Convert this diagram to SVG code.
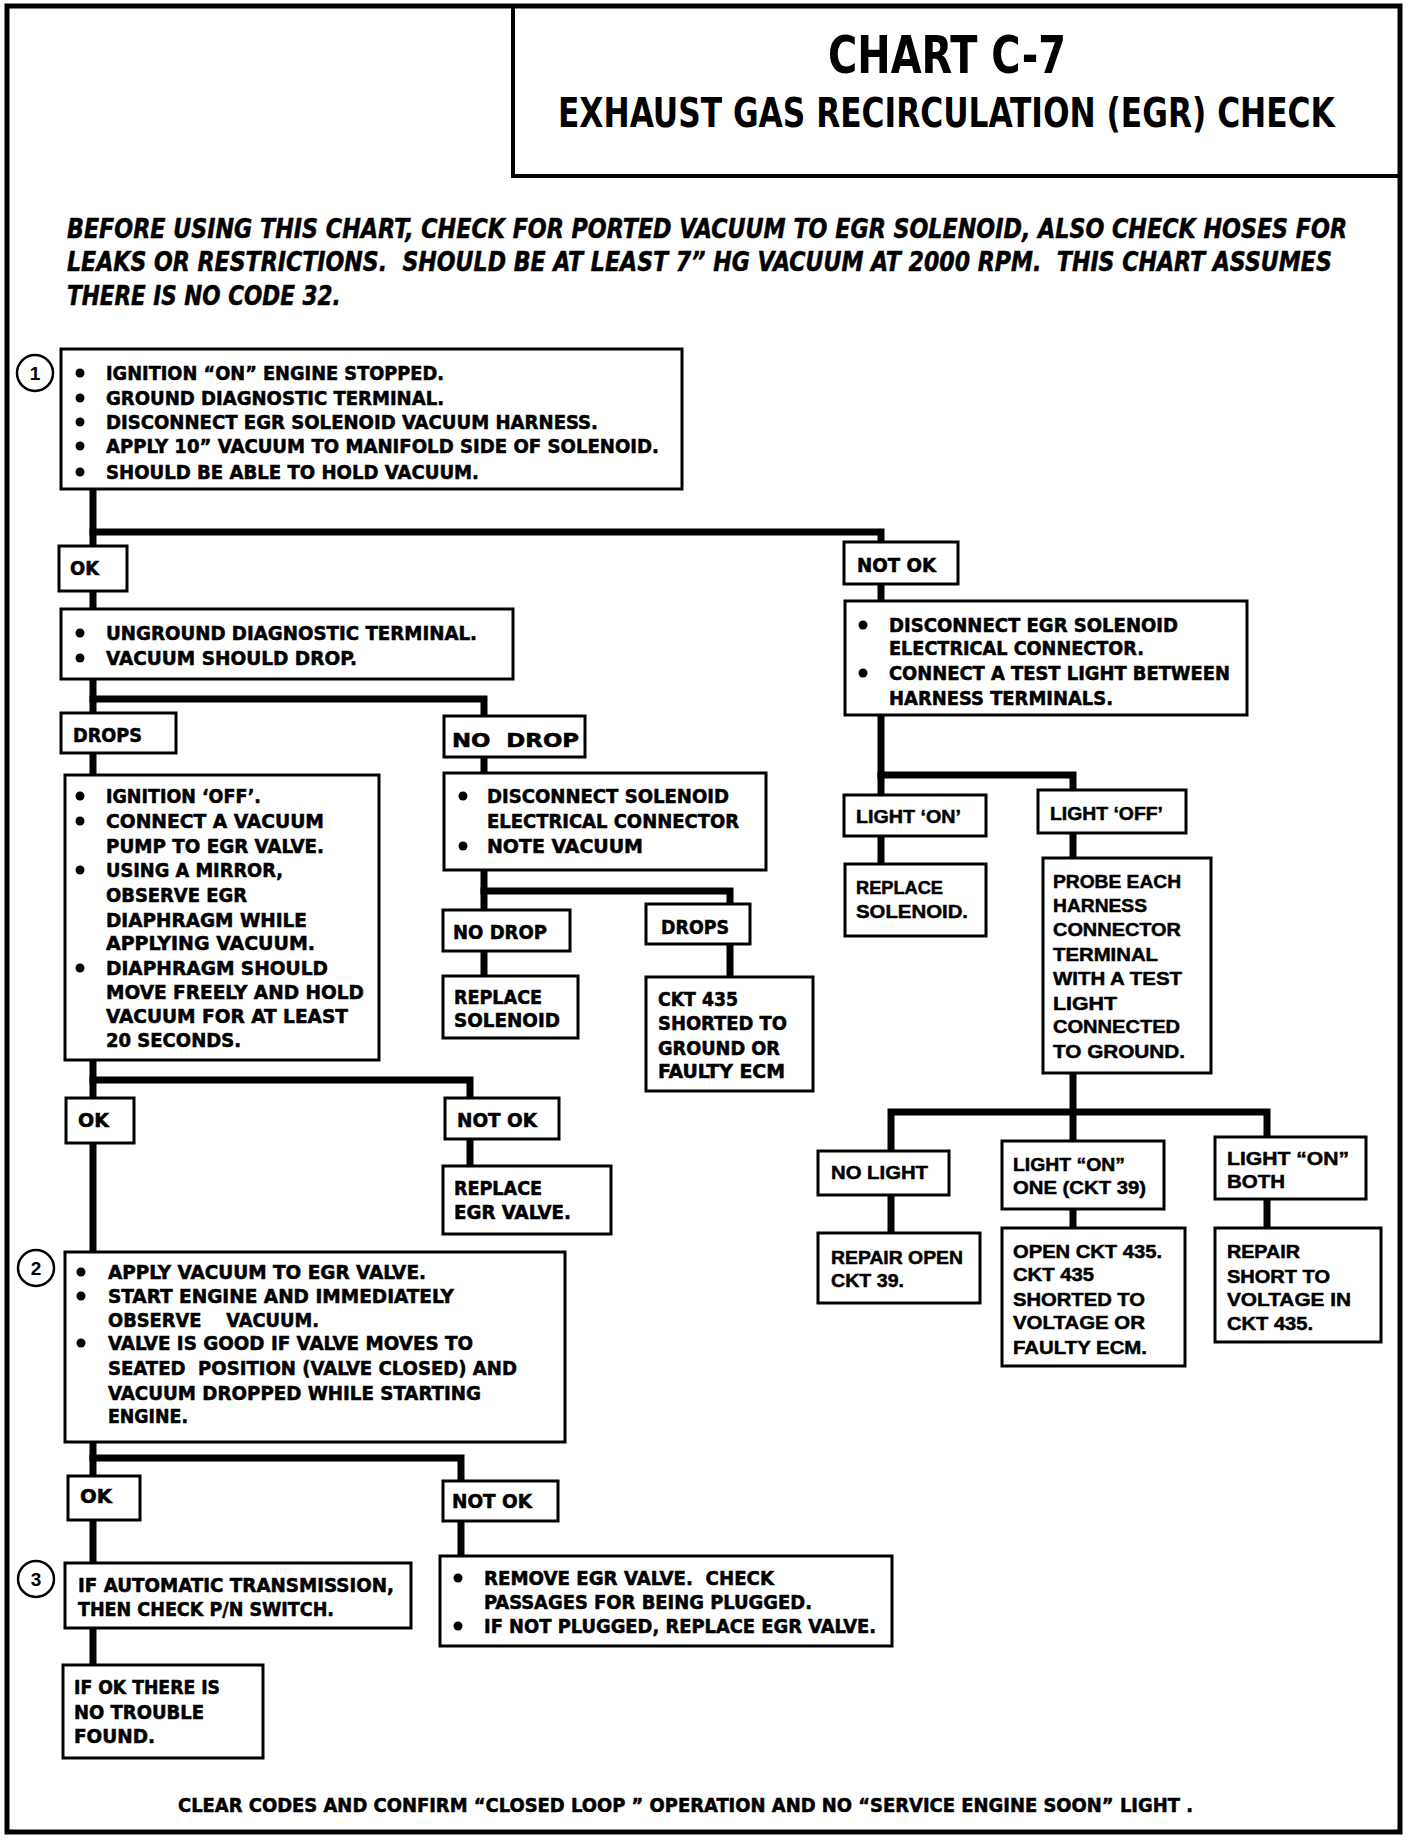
<svg xmlns="http://www.w3.org/2000/svg" width="1408" height="1842" viewBox="0 0 1408 1842">
<style>
.bg{fill:#fff}
.frame{fill:none;stroke:#000;stroke-width:5}
.box{fill:#fff;stroke:#000;stroke-width:3}
.conn{fill:none;stroke:#000;stroke-width:7;stroke-linecap:square;stroke-linejoin:miter}
.t{font-family:"Liberation Sans Narrow","DejaVu Sans Condensed","Liberation Sans",sans-serif;font-weight:bold;font-size:19px;fill:#000;stroke:#000;stroke-width:0.5}
.w{font-family:"Liberation Sans","DejaVu Sans",sans-serif;font-weight:bold;font-size:19px;fill:#000;stroke:#000;stroke-width:0.5}
.intro{font-family:"Liberation Sans Narrow","DejaVu Sans Condensed","Liberation Sans",sans-serif;font-weight:bold;font-style:italic;font-size:27px;fill:#000;stroke:#000;stroke-width:0.5}
.title{font-family:"Liberation Sans Narrow","DejaVu Sans Condensed","Liberation Sans",sans-serif;font-weight:bold;fill:#000}
.num{font-family:"Liberation Sans","DejaVu Sans",sans-serif;font-weight:bold;font-size:19px;fill:#000;text-anchor:middle}
.pre{white-space:pre}
.circ{fill:#fff;stroke:#000;stroke-width:2.5}
.dot{fill:#000}
</style>
<rect class="bg" x="0" y="0" width="1408" height="1842"/>
<rect class="frame" x="7" y="6" width="1393" height="1826"/>

<g id="title">
<rect class="frame" x="513" y="6" width="887" height="170" style="stroke-width:4"/>
<text class="title" x="828" y="73" font-size="52" textLength="238" lengthAdjust="spacingAndGlyphs">CHART C-7</text>
<text class="title" transform="translate(558,127) scale(0.8,1)" x="0" y="0" font-size="40" textLength="971" lengthAdjust="spacingAndGlyphs">EXHAUST GAS RECIRCULATION (EGR) CHECK</text>
</g>

<g id="intro">
<text class="intro pre" xml:space="preserve" transform="translate(67,238) scale(0.8,1)" x="0" y="0" textLength="1600" lengthAdjust="spacingAndGlyphs">BEFORE USING THIS CHART, CHECK FOR PORTED VACUUM TO EGR SOLENOID, ALSO CHECK HOSES FOR</text>
<text class="intro pre" xml:space="preserve" transform="translate(67,271) scale(0.8,1)" x="0" y="0" textLength="1581" lengthAdjust="spacingAndGlyphs">LEAKS OR RESTRICTIONS.  SHOULD BE AT LEAST 7” HG VACUUM AT 2000 RPM.  THIS CHART ASSUMES</text>
<text class="intro" transform="translate(67,305) scale(0.8,1)" x="0" y="0" textLength="342" lengthAdjust="spacingAndGlyphs">THERE IS NO CODE 32.</text>
</g>

<g id="connectors">
<polyline class="conn" points="93,489 93,546"/>
<polyline class="conn" points="93,532 881,532 881,542"/>
<polyline class="conn" points="93,591 93,609"/>
<polyline class="conn" points="93,679 93,713"/>
<polyline class="conn" points="93,699 484,699 484,716"/>
<polyline class="conn" points="93,753 93,775"/>
<polyline class="conn" points="484,757 484,773"/>
<polyline class="conn" points="484,870 484,910"/>
<polyline class="conn" points="484,891 730,891 730,904"/>
<polyline class="conn" points="484,951 484,976"/>
<polyline class="conn" points="730,944 730,977"/>
<polyline class="conn" points="93,1060 93,1098"/>
<polyline class="conn" points="93,1080 470,1080 470,1098"/>
<polyline class="conn" points="470,1139 470,1166"/>
<polyline class="conn" points="93,1143 93,1252"/>
<polyline class="conn" points="93,1442 93,1476"/>
<polyline class="conn" points="93,1458 461,1458 461,1481"/>
<polyline class="conn" points="461,1521 461,1556"/>
<polyline class="conn" points="93,1520 93,1563"/>
<polyline class="conn" points="93,1628 93,1665"/>
<polyline class="conn" points="881,584 881,601"/>
<polyline class="conn" points="881,715 881,795"/>
<polyline class="conn" points="881,775 1073,775 1073,790"/>
<polyline class="conn" points="881,836 881,864"/>
<polyline class="conn" points="1073,833 1073,858"/>
<polyline class="conn" points="1073,1073 1073,1141"/>
<polyline class="conn" points="891,1151 891,1112 1267,1112 1267,1137"/>
<polyline class="conn" points="891,1195 891,1233"/>
<polyline class="conn" points="1073,1209 1073,1228"/>
<polyline class="conn" points="1267,1199 1267,1228"/>
</g>

<g id="step1">
<circle class="circ" cx="35" cy="373" r="18"/>
<text class="num" x="35" y="380">1</text>
<rect class="box" x="61" y="349" width="621" height="140"/>
<circle class="dot" cx="80" cy="373" r="4.5"/>
<circle class="dot" cx="80" cy="398" r="4.5"/>
<circle class="dot" cx="80" cy="422" r="4.5"/>
<circle class="dot" cx="80" cy="446" r="4.5"/>
<circle class="dot" cx="80" cy="472" r="4.5"/>
<text class="t" x="106" y="380" textLength="338" lengthAdjust="spacingAndGlyphs">IGNITION “ON” ENGINE STOPPED.</text>
<text class="t" x="106" y="405" textLength="338" lengthAdjust="spacingAndGlyphs">GROUND DIAGNOSTIC TERMINAL.</text>
<text class="t" x="106" y="429" textLength="492" lengthAdjust="spacingAndGlyphs">DISCONNECT EGR SOLENOID VACUUM HARNESS.</text>
<text class="t" x="106" y="453" textLength="553" lengthAdjust="spacingAndGlyphs">APPLY 10” VACUUM TO MANIFOLD SIDE OF SOLENOID.</text>
<text class="t" x="106" y="479" textLength="373" lengthAdjust="spacingAndGlyphs">SHOULD BE ABLE TO HOLD VACUUM.</text>
</g>

<g id="ok1">
<rect class="box" x="59" y="546" width="68" height="45"/>
<text class="t" x="70" y="575" textLength="29" lengthAdjust="spacingAndGlyphs">OK</text>
</g>

<g id="notok1">
<rect class="box" x="844" y="542" width="114" height="42"/>
<text class="t" x="857" y="572" textLength="79" lengthAdjust="spacingAndGlyphs">NOT OK</text>
</g>

<g id="unground">
<rect class="box" x="61" y="609" width="452" height="70"/>
<circle class="dot" cx="80" cy="633" r="4.5"/>
<circle class="dot" cx="80" cy="658" r="4.5"/>
<text class="t" x="106" y="640" textLength="371" lengthAdjust="spacingAndGlyphs">UNGROUND DIAGNOSTIC TERMINAL.</text>
<text class="t" x="106" y="665" textLength="251" lengthAdjust="spacingAndGlyphs">VACUUM SHOULD DROP.</text>
</g>

<g id="drops1">
<rect class="box" x="61" y="713" width="115" height="40"/>
<text class="t" x="73" y="742" textLength="69" lengthAdjust="spacingAndGlyphs">DROPS</text>
</g>

<g id="nodrop1">
<rect class="box" x="444" y="716" width="141" height="41"/>
<text class="t pre" xml:space="preserve" x="452" y="747" textLength="127" lengthAdjust="spacingAndGlyphs">NO  DROP</text>
</g>

<g id="ignoff">
<rect class="box" x="65" y="775" width="314" height="285"/>
<circle class="dot" cx="80" cy="796" r="4.5"/>
<circle class="dot" cx="80" cy="821" r="4.5"/>
<circle class="dot" cx="80" cy="870" r="4.5"/>
<circle class="dot" cx="80" cy="968" r="4.5"/>
<text class="t" x="106" y="803" textLength="155" lengthAdjust="spacingAndGlyphs">IGNITION ‘OFF’.</text>
<text class="t" x="106" y="828" textLength="218" lengthAdjust="spacingAndGlyphs">CONNECT A VACUUM</text>
<text class="t" x="106" y="853" textLength="218" lengthAdjust="spacingAndGlyphs">PUMP TO EGR VALVE.</text>
<text class="t" x="106" y="877" textLength="177" lengthAdjust="spacingAndGlyphs">USING A MIRROR,</text>
<text class="t" x="106" y="902" textLength="141" lengthAdjust="spacingAndGlyphs">OBSERVE EGR</text>
<text class="t" x="106" y="927" textLength="201" lengthAdjust="spacingAndGlyphs">DIAPHRAGM WHILE</text>
<text class="t" x="106" y="950" textLength="209" lengthAdjust="spacingAndGlyphs">APPLYING VACUUM.</text>
<text class="t" x="106" y="975" textLength="222" lengthAdjust="spacingAndGlyphs">DIAPHRAGM SHOULD</text>
<text class="t" x="106" y="999" textLength="258" lengthAdjust="spacingAndGlyphs">MOVE FREELY AND HOLD</text>
<text class="t" x="106" y="1023" textLength="242" lengthAdjust="spacingAndGlyphs">VACUUM FOR AT LEAST</text>
<text class="t" x="106" y="1047" textLength="135" lengthAdjust="spacingAndGlyphs">20 SECONDS.</text>
</g>

<g id="discsol">
<rect class="box" x="444" y="773" width="322" height="97"/>
<circle class="dot" cx="463" cy="796" r="4.5"/>
<circle class="dot" cx="463" cy="846" r="4.5"/>
<text class="t" x="487" y="803" textLength="242" lengthAdjust="spacingAndGlyphs">DISCONNECT SOLENOID</text>
<text class="t" x="487" y="828" textLength="252" lengthAdjust="spacingAndGlyphs">ELECTRICAL CONNECTOR</text>
<text class="t" x="487" y="853" textLength="156" lengthAdjust="spacingAndGlyphs">NOTE VACUUM</text>
</g>

<g id="nodrop2">
<rect class="box" x="443" y="910" width="127" height="41"/>
<text class="t" x="453" y="939" textLength="94" lengthAdjust="spacingAndGlyphs">NO DROP</text>
</g>

<g id="drops2">
<rect class="box" x="646" y="904" width="104" height="40"/>
<text class="t" x="661" y="934" textLength="68" lengthAdjust="spacingAndGlyphs">DROPS</text>
</g>

<g id="replsol1">
<rect class="box" x="443" y="976" width="135" height="62"/>
<text class="t" x="454" y="1004" textLength="88" lengthAdjust="spacingAndGlyphs">REPLACE</text>
<text class="t" x="454" y="1027" textLength="106" lengthAdjust="spacingAndGlyphs">SOLENOID</text>
</g>

<g id="ckt435">
<rect class="box" x="646" y="977" width="167" height="114"/>
<text class="t" x="658" y="1006" textLength="80" lengthAdjust="spacingAndGlyphs">CKT 435</text>
<text class="t" x="658" y="1030" textLength="129" lengthAdjust="spacingAndGlyphs">SHORTED TO</text>
<text class="t" x="658" y="1055" textLength="122" lengthAdjust="spacingAndGlyphs">GROUND OR</text>
<text class="t" x="658" y="1078" textLength="127" lengthAdjust="spacingAndGlyphs">FAULTY ECM</text>
</g>

<g id="ok2">
<rect class="box" x="66" y="1098" width="68" height="45"/>
<text class="t" x="78" y="1127" textLength="31" lengthAdjust="spacingAndGlyphs">OK</text>
</g>

<g id="notok2">
<rect class="box" x="445" y="1098" width="114" height="41"/>
<text class="t" x="457" y="1127" textLength="80" lengthAdjust="spacingAndGlyphs">NOT OK</text>
</g>

<g id="replegr">
<rect class="box" x="443" y="1166" width="168" height="68"/>
<text class="t" x="454" y="1195" textLength="88" lengthAdjust="spacingAndGlyphs">REPLACE</text>
<text class="t" x="454" y="1219" textLength="117" lengthAdjust="spacingAndGlyphs">EGR VALVE.</text>
</g>

<g id="step2">
<circle class="circ" cx="36" cy="1268" r="18"/>
<text class="num" x="36" y="1275">2</text>
<rect class="box" x="65" y="1252" width="500" height="190"/>
<circle class="dot" cx="81" cy="1272" r="4.5"/>
<circle class="dot" cx="81" cy="1296" r="4.5"/>
<circle class="dot" cx="81" cy="1343" r="4.5"/>
<text class="t" x="108" y="1279" textLength="318" lengthAdjust="spacingAndGlyphs">APPLY VACUUM TO EGR VALVE.</text>
<text class="t" x="108" y="1303" textLength="346" lengthAdjust="spacingAndGlyphs">START ENGINE AND IMMEDIATELY</text>
<text class="t pre" xml:space="preserve" x="108" y="1327" textLength="211" lengthAdjust="spacingAndGlyphs">OBSERVE    VACUUM.</text>
<text class="t" x="108" y="1350" textLength="365" lengthAdjust="spacingAndGlyphs">VALVE IS GOOD IF VALVE MOVES TO</text>
<text class="t pre" xml:space="preserve" x="108" y="1375" textLength="409" lengthAdjust="spacingAndGlyphs">SEATED  POSITION (VALVE CLOSED) AND</text>
<text class="t" x="108" y="1400" textLength="373" lengthAdjust="spacingAndGlyphs">VACUUM DROPPED WHILE STARTING</text>
<text class="t" x="108" y="1423" textLength="80" lengthAdjust="spacingAndGlyphs">ENGINE.</text>
</g>

<g id="ok3">
<rect class="box" x="68" y="1476" width="72" height="44"/>
<text class="t" x="80" y="1503" textLength="32" lengthAdjust="spacingAndGlyphs">OK</text>
</g>

<g id="notok3">
<rect class="box" x="443" y="1481" width="115" height="40"/>
<text class="t" x="452" y="1508" textLength="80" lengthAdjust="spacingAndGlyphs">NOT OK</text>
</g>

<g id="removeegr">
<rect class="box" x="440" y="1556" width="452" height="90"/>
<circle class="dot" cx="458" cy="1578" r="4.5"/>
<circle class="dot" cx="458" cy="1626" r="4.5"/>
<text class="t pre" xml:space="preserve" x="484" y="1585" textLength="290" lengthAdjust="spacingAndGlyphs">REMOVE EGR VALVE.  CHECK</text>
<text class="t" x="484" y="1609" textLength="328" lengthAdjust="spacingAndGlyphs">PASSAGES FOR BEING PLUGGED.</text>
<text class="t" x="484" y="1633" textLength="392" lengthAdjust="spacingAndGlyphs">IF NOT PLUGGED, REPLACE EGR VALVE.</text>
</g>

<g id="step3">
<circle class="circ" cx="36" cy="1579" r="18"/>
<text class="num" x="36" y="1586">3</text>
<rect class="box" x="65" y="1563" width="346" height="65"/>
<text class="t" x="78" y="1592" textLength="316" lengthAdjust="spacingAndGlyphs">IF AUTOMATIC TRANSMISSION,</text>
<text class="t" x="78" y="1616" textLength="256" lengthAdjust="spacingAndGlyphs">THEN CHECK P/N SWITCH.</text>
</g>

<g id="notrouble">
<rect class="box" x="63" y="1665" width="200" height="93"/>
<text class="t" x="74" y="1694" textLength="146" lengthAdjust="spacingAndGlyphs">IF OK THERE IS</text>
<text class="t" x="74" y="1719" textLength="130" lengthAdjust="spacingAndGlyphs">NO TROUBLE</text>
<text class="t" x="74" y="1743" textLength="81" lengthAdjust="spacingAndGlyphs">FOUND.</text>
</g>

<g id="footer">
<text class="t" x="178" y="1812" textLength="1015" lengthAdjust="spacingAndGlyphs">CLEAR CODES AND CONFIRM “CLOSED LOOP ” OPERATION AND NO “SERVICE ENGINE SOON” LIGHT .</text>
</g>

<g id="disconnect-egr">
<rect class="box" x="845" y="601" width="402" height="114"/>
<circle class="dot" cx="863" cy="625" r="4.5"/>
<circle class="dot" cx="863" cy="673" r="4.5"/>
<text class="t" x="889" y="632" textLength="289" lengthAdjust="spacingAndGlyphs">DISCONNECT EGR SOLENOID</text>
<text class="t" x="889" y="655" textLength="255" lengthAdjust="spacingAndGlyphs">ELECTRICAL CONNECTOR.</text>
<text class="t" x="889" y="680" textLength="341" lengthAdjust="spacingAndGlyphs">CONNECT A TEST LIGHT BETWEEN</text>
<text class="t" x="889" y="705" textLength="224" lengthAdjust="spacingAndGlyphs">HARNESS TERMINALS.</text>
</g>

<g id="lighton">
<rect class="box" x="844" y="795" width="142" height="41"/>
<text class="w" x="856" y="823" textLength="105" lengthAdjust="spacingAndGlyphs">LIGHT ‘ON’</text>
</g>

<g id="lightoff">
<rect class="box" x="1038" y="790" width="148" height="43"/>
<text class="w" x="1050" y="820" textLength="113" lengthAdjust="spacingAndGlyphs">LIGHT ‘OFF’</text>
</g>

<g id="replsol2">
<rect class="box" x="845" y="864" width="141" height="72"/>
<text class="w" x="856" y="894" textLength="87" lengthAdjust="spacingAndGlyphs">REPLACE</text>
<text class="w" x="856" y="918" textLength="112" lengthAdjust="spacingAndGlyphs">SOLENOID.</text>
</g>

<g id="probe">
<rect class="box" x="1043" y="858" width="168" height="215"/>
<text class="w" x="1053" y="888" textLength="128" lengthAdjust="spacingAndGlyphs">PROBE EACH</text>
<text class="w" x="1053" y="912" textLength="94" lengthAdjust="spacingAndGlyphs">HARNESS</text>
<text class="w" x="1053" y="936" textLength="128" lengthAdjust="spacingAndGlyphs">CONNECTOR</text>
<text class="w" x="1053" y="961" textLength="105" lengthAdjust="spacingAndGlyphs">TERMINAL</text>
<text class="w" x="1053" y="985" textLength="129" lengthAdjust="spacingAndGlyphs">WITH A TEST</text>
<text class="w" x="1053" y="1010" textLength="64" lengthAdjust="spacingAndGlyphs">LIGHT</text>
<text class="w" x="1053" y="1033" textLength="127" lengthAdjust="spacingAndGlyphs">CONNECTED</text>
<text class="w" x="1053" y="1058" textLength="132" lengthAdjust="spacingAndGlyphs">TO GROUND.</text>
</g>

<g id="nolight">
<rect class="box" x="818" y="1151" width="131" height="44"/>
<text class="w" x="831" y="1179" textLength="97" lengthAdjust="spacingAndGlyphs">NO LIGHT</text>
</g>

<g id="lightone">
<rect class="box" x="1002" y="1141" width="162" height="68"/>
<text class="w" x="1013" y="1171" textLength="112" lengthAdjust="spacingAndGlyphs">LIGHT “ON”</text>
<text class="w" x="1013" y="1194" textLength="133" lengthAdjust="spacingAndGlyphs">ONE (CKT 39)</text>
</g>

<g id="lightboth">
<rect class="box" x="1215" y="1137" width="151" height="62"/>
<text class="w" x="1227" y="1165" textLength="122" lengthAdjust="spacingAndGlyphs">LIGHT “ON”</text>
<text class="w" x="1227" y="1188" textLength="58" lengthAdjust="spacingAndGlyphs">BOTH</text>
</g>

<g id="repairopen">
<rect class="box" x="818" y="1233" width="162" height="70"/>
<text class="w" x="831" y="1264" textLength="132" lengthAdjust="spacingAndGlyphs">REPAIR OPEN</text>
<text class="w" x="831" y="1287" textLength="73" lengthAdjust="spacingAndGlyphs">CKT 39.</text>
</g>

<g id="openckt">
<rect class="box" x="1002" y="1228" width="183" height="138"/>
<text class="w" x="1013" y="1258" textLength="149" lengthAdjust="spacingAndGlyphs">OPEN CKT 435.</text>
<text class="w" x="1013" y="1281" textLength="81" lengthAdjust="spacingAndGlyphs">CKT 435</text>
<text class="w" x="1013" y="1306" textLength="132" lengthAdjust="spacingAndGlyphs">SHORTED TO</text>
<text class="w" x="1013" y="1329" textLength="132" lengthAdjust="spacingAndGlyphs">VOLTAGE OR</text>
<text class="w" x="1013" y="1354" textLength="134" lengthAdjust="spacingAndGlyphs">FAULTY ECM.</text>
</g>

<g id="repairshort">
<rect class="box" x="1215" y="1228" width="166" height="114"/>
<text class="w" x="1227" y="1258" textLength="73" lengthAdjust="spacingAndGlyphs">REPAIR</text>
<text class="w" x="1227" y="1283" textLength="103" lengthAdjust="spacingAndGlyphs">SHORT TO</text>
<text class="w" x="1227" y="1306" textLength="124" lengthAdjust="spacingAndGlyphs">VOLTAGE IN</text>
<text class="w" x="1227" y="1330" textLength="86" lengthAdjust="spacingAndGlyphs">CKT 435.</text>
</g>
</svg>
